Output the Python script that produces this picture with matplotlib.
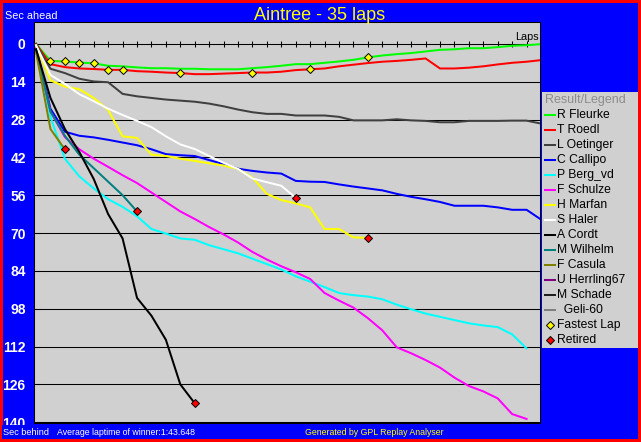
import matplotlib
matplotlib.use('Agg')
import matplotlib.pyplot as plt
import numpy as np
from matplotlib.lines import Line2D
from matplotlib.patches import Rectangle

# seconds behind the winner's average pace, one value per lap (lap 0 = start)
fleurke = [0, 6.3, 6.5, 6.9, 7.2, 8.1, 8.3, 8.7, 9.0, 9.0, 9.2, 9.2, 9.4, 9.4, 9.4, 9.0, 8.6, 8.1,
           7.5, 7.5, 7.0, 6.5, 5.9, 5.0, 4.3, 3.8, 3.4, 2.8, 2.2, 2.0, 1.6, 1.6, 1.2, 0.7, 0.5, 0.1]
roedl = [0, 7.5, 8.6, 9.1, 9.3, 9.6, 9.6, 10.1, 10.3, 10.6, 10.8, 11.2, 11.2, 11.0, 10.8, 10.6, 10.6,
         10.3, 9.7, 9.4, 9.1, 8.3, 7.7, 7.1, 6.6, 6.3, 5.9, 5.4, 9.1, 9.1, 8.8, 8.3, 7.6, 7.0, 6.6, 6.0]
oetinger = [0, 9.2, 10.8, 12.9, 13.9, 14.2, 18.5, 19.4, 20.0, 20.6, 21.0, 21.4, 22.1, 23.1, 24.3, 25.3,
            25.9, 25.9, 26.5, 26.5, 26.5, 27.0, 28.3, 28.3, 28.3, 27.9, 28.3, 28.5, 29.0, 29.0, 28.5,
            28.5, 28.5, 28.4, 28.4, 29.5]
callipo = [1, 24, 32.5, 34, 34.6, 35.5, 36.5, 37.5, 39, 40.8, 41.2, 41.5, 43, 44.5, 46.2, 47, 47.6, 48,
           50.7, 51, 51.1, 52, 52.8, 53.5, 54.2, 55.5, 56.6, 57.5, 58.5, 59.9, 59.9, 59.9, 60.5, 61.4,
           61.4, 65]
berg = [1, 27, 42.5, 49, 53.5, 57.5, 60.3, 63.8, 68.5, 70.2, 72, 72.5, 74.5, 76, 77.5, 79.5, 81.5, 83.5,
        86, 88, 90, 92.2, 93, 93.5, 94.5, 96.5, 98.2, 99.8, 101, 102.2, 103.4, 104.2, 104.8, 107.5, 112.7]
schulze = [1.5, 25, 34.5, 39, 42.5, 45.5, 48.6, 51.5, 55, 58.5, 62, 64.8, 67.8, 70.5, 73.5, 77, 79.8, 82.3,
           84.5, 87, 92.2, 95, 97.6, 101.5, 106, 112.3, 114.5, 117, 119.8, 123.5, 126.6, 128.6, 131.2,
           137, 138.8]
marfan = [0.5, 13.5, 15.8, 16.8, 20, 24.5, 34.2, 34.8, 41, 41.5, 42.5, 43.3, 44.2, 45, 46.3, 49.5, 55.5,
          57.8, 59, 60.5, 68.5, 68.5, 71.6, 71.8]
haler = [0.5, 11.5, 14.8, 18.6, 21.2, 24, 26.3, 28.5, 30.8, 34.2, 37.2, 38.9, 41.5, 44, 46.3, 49.8, 51.2,
         52.5, 57]
cordt = [2, 20, 31.5, 40, 50, 63, 72, 94, 100.6, 109.5, 126, 133]
wilhelm = [2, 25, 34, 41, 46, 51, 56, 62]
casula = [3, 31.5, 39]
herrling = []
schade = []
geli = []

drivers = ['R Fleurke', 'T Roedl', 'L Oetinger', 'C Callipo', 'P Berg_vd', 'F Schulze', 'H Marfan',
           'S Haler', 'A Cordt', 'M Wilhelm', 'F Casula', 'U Herrling67', 'M Schade', '  Geli-60']
series = [fleurke, roedl, oetinger, callipo, berg, schulze, marfan, haler, cordt, wilhelm, casula,
          herrling, schade, geli]
colors = ['#00ff00', '#ff0000', '#404040', '#0000ff', '#00ffff', '#ff00ff', '#ffff00', '#ffffff',
          '#000000', '#008080', '#808000', '#800080', '#202020', '#808080']
retired = ['H Marfan', 'S Haler', 'A Cordt', 'M Wilhelm', 'F Casula']
fastest_laps = [1, 2, 3, 4, 5, 6, 10, 15, 19, 23]
fastest_by = ['R Fleurke'] * 4 + ['T Roedl'] * 5 + ['R Fleurke']
total_laps = 35

plt.rcParams['font.family'] = ['Liberation Sans', 'DejaVu Sans']

W, H = 641, 442
fig = plt.figure(figsize=(W / 100, H / 100), dpi=100)
fig.patch.set_facecolor('#0000ff')
fig.patch.set_edgecolor('#ff0000')
fig.patch.set_linewidth(4)


def fx(px):
    return px / W


def fy(py):
    return 1 - py / H


ax = fig.add_axes([fx(34), fy(423), fx(540) - fx(34), fy(22) - fy(423)])
ax.set_facecolor('#d0d0d0')
ax.set_xlim(-0.14, 34.93)
ax.set_ylim(140.3, -8.1)
for s in ax.spines.values():
    s.set_color('black')
    s.set_linewidth(0.75)

yt = np.arange(0, 141, 14)
ax.set_yticks(yt)
ax.set_xticks([])
ax.tick_params(axis='y', direction='in', length=4, width=0.75, color='black',
               labelcolor='white', labelsize=10, pad=6)
for lbl in ax.get_yticklabels():
    lbl.set_fontweight('bold')
for v in yt[1:]:
    ax.axhline(v, color='black', lw=0.75, zorder=1)

# lap axis along zero
laps_all = np.arange(1, total_laps)
ax.axhline(0, color='black', lw=0.75, zorder=1)
ax.plot(laps_all, np.zeros(len(laps_all)), ls='none', marker='|', ms=4, mew=0.75,
        color='black', zorder=1)

for name, vals, c in zip(drivers, series, colors):
    if not vals:
        continue
    z = 4 if name == 'A Cordt' else 3
    ax.plot(np.arange(len(vals)), vals, color=c, lw=1.45, zorder=z)

for name, vals in zip(drivers, series):
    if name in retired:
        ax.plot(len(vals) - 1, vals[-1], ls='none', marker='D', ms=4.5, mfc='#ff0000',
                mec='black', mew=0.7, zorder=6)

for lap, who in zip(fastest_laps, fastest_by):
    vals = series[drivers.index(who)]
    ax.plot(lap, vals[lap], ls='none', marker='D', ms=4.5, mfc='#ffff00', mec='black',
            mew=0.7, zorder=6)

# texts
fig.text(fx(320), fy(19.5), 'Aintree - 35 laps', color='#ffff00', fontsize=13,
         ha='center', va='baseline')
fig.text(fx(5), fy(19.3), 'Sec ahead', color='white', fontsize=7.8, va='baseline')
fig.text(fx(539), fy(40.5), 'Laps', color='black', fontsize=7.8, ha='right', va='baseline')

# hide lower half of the 140 label like the original
fig.add_artist(Rectangle((fx(2), fy(439)), fx(33) - fx(2), fy(425) - fy(439),
                         transform=fig.transFigure, facecolor='#0000ff', edgecolor='none',
                         zorder=10))
fig.text(fx(3), fy(435), 'Sec behind', color='white', fontsize=6.6,
         va='baseline', zorder=11)
fig.text(fx(57), fy(435), 'Average laptime of winner:1:43.648', color='white', fontsize=6.3,
         va='baseline', zorder=11)
fig.text(fx(305), fy(435), 'Generated by GPL Replay Analyser', color='#ffff00', fontsize=6.3,
         va='baseline', zorder=11)

# legend panel
fig.add_artist(Rectangle((fx(542), fy(348)), fx(638) - fx(542), fy(92) - fy(348),
                         transform=fig.transFigure, facecolor='#d0d0d0', edgecolor='none'))
fig.text(fx(545), fy(100), 'Result/Legend', color='#8c8c8c', fontsize=9, va='center')
row = 115
for name, c in zip(drivers, colors):
    fig.add_artist(Line2D([fx(545), fx(555)], [fy(row), fy(row)], color=c, lw=1.45,
                          transform=fig.transFigure))
    fig.text(fx(557), fy(row), name, color='black', fontsize=8.7, va='center')
    row += 15
for label, fc in [('Fastest Lap', '#ffff00'), ('Retired', '#ff0000')]:
    fig.add_artist(Line2D([fx(549.5)], [fy(row)], ls='none', marker='D', ms=4.5, mfc=fc,
                          mec='black', mew=0.7, transform=fig.transFigure))
    fig.text(fx(557), fy(row), label, color='black', fontsize=8.7, va='center')
    row += 15

fig.savefig('out.png', dpi=100, facecolor=fig.get_facecolor(), edgecolor=fig.get_edgecolor())
